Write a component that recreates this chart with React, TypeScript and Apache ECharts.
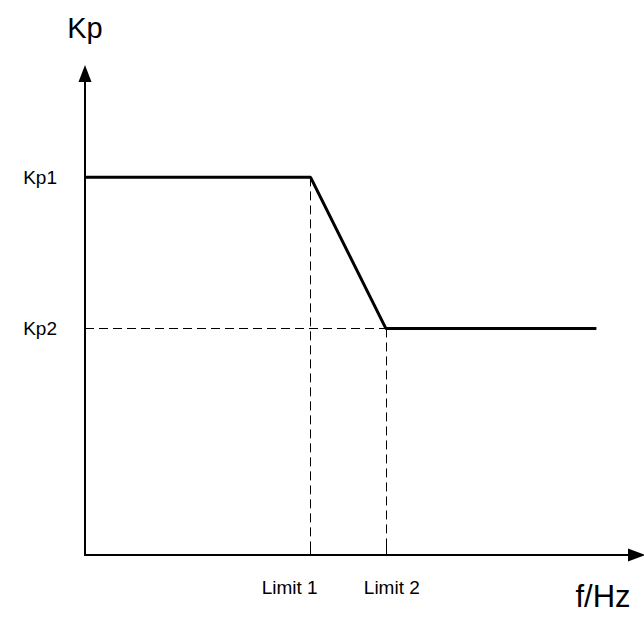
import React, { useEffect, useRef } from "react";
import * as echarts from "echarts";

// Curve: frequency (abstract units) vs Kp
const freqPoints = [0, 45, 60, 102];
const kpValues = [1, 1, 0.6, 0.6];

// Tick positions / labels
const xTickValues = [45, 60];
const xTickLabels = ["Limit 1", "Limit 2"];
const yTickValues = [0.6, 1];
const yTickLabels = ["Kp2", "Kp1"];

const xMax = 110;
const yMax = 1.275;

export default function App() {
  const ref = useRef<HTMLDivElement>(null);

  useEffect(() => {
    const chart = echarts.init(ref.current!, null, { renderer: "svg" });
    const font = "Liberation Sans";
    const dash = { color: "#000", width: 1, type: [9, 5] as any };

    chart.setOption({
      animation: false,
      backgroundColor: "#fff",
      grid: { left: 85, top: 73.5, right: 7.5, bottom: 64, outerBoundsMode: "none" },
      xAxis: {
        type: "value",
        min: 0,
        max: xMax,
        name: "f/Hz",
        nameLocation: "end",
        nameGap: -61,
        nameTextStyle: {
          fontFamily: font,
          fontSize: 31,
          color: "#000",
          align: "left",
          verticalAlign: "top",
          padding: [26, 0, 0, 0],
        },
        axisLine: {
          show: true,
          symbol: ["none", "triangle"],
          symbolSize: [13, 17],
          lineStyle: { color: "#000", width: 2 },
        },
        axisTick: {
          show: true,
          inside: true,
          length: 8,
          customValues: xTickValues,
          lineStyle: { color: "#000", width: 1 },
        },
        axisLabel: {
          customValues: xTickValues,
          margin: 23,
          formatter: (v: number) => {
            const i = xTickValues.indexOf(v);
            return i === 0 ? `{a|${xTickLabels[i]}}` : `{b|${xTickLabels[i]}}`;
          },
          rich: {
            a: { fontFamily: font, fontSize: 19, color: "#000", padding: [0, 42, 0, 0] },
            b: { fontFamily: font, fontSize: 19, color: "#000", padding: [0, 0, 0, 12] },
          },
        },
        splitLine: { show: false },
      },
      yAxis: {
        type: "value",
        min: 0,
        max: yMax,
        name: "Kp",
        nameLocation: "end",
        nameGap: 31,
        nameTextStyle: {
          fontFamily: font,
          fontSize: 29,
          color: "#000",
          align: "center",
          verticalAlign: "bottom",
        },
        axisLine: {
          show: true,
          symbol: ["none", "triangle"],
          symbolSize: [13, 17],
          lineStyle: { color: "#000", width: 2 },
        },
        axisTick: { show: false },
        axisLabel: {
          customValues: yTickValues,
          margin: 28,
          fontFamily: font,
          fontSize: 19,
          color: "#000",
          padding: [8, 0, 0, 0],
          formatter: (v: number) => yTickLabels[yTickValues.indexOf(v)] ?? "",
        },
        splitLine: { show: false },
      },
      series: [
        {
          type: "line",
          data: freqPoints.map((f, i) => [f, kpValues[i]]),
          symbol: "none",
          lineStyle: { color: "#000", width: 3 },
          z: 3,
          markLine: {
            silent: true,
            symbol: "none",
            label: { show: false },
            lineStyle: dash,
            data: [
              [{ coord: [freqPoints[1], kpValues[1]] }, { coord: [freqPoints[1], 0] }],
              [{ coord: [freqPoints[2], kpValues[2]] }, { coord: [freqPoints[2], 0] }],
              [{ coord: [0, kpValues[2]] }, { coord: [freqPoints[2], kpValues[2]] }],
            ],
          },
        },
      ],
    });

    return () => chart.dispose();
  }, []);

  return (
    <div
      ref={ref}
      style={{ position: "fixed", left: 0, top: 0, width: 644, height: 619, background: "#fff" }}
    />
  );
}
